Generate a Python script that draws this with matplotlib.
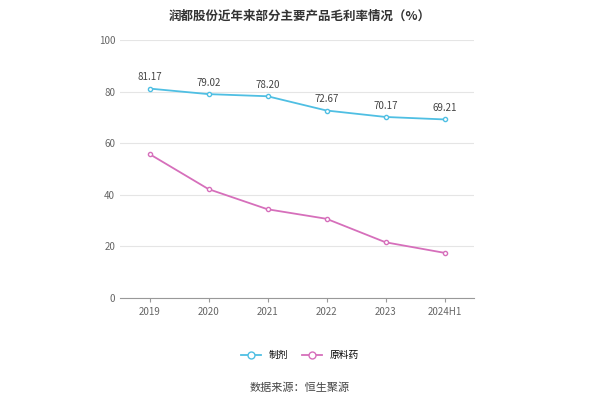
import matplotlib
matplotlib.use("Agg")
import matplotlib.pyplot as plt
from matplotlib.lines import Line2D

plt.rcParams['font.family'] = ['Noto Sans CJK SC', 'DejaVu Sans']

years = ["2019", "2020", "2021", "2022", "2023", "2024H1"]
zhiji = [81.17, 79.02, 78.20, 72.67, 70.17, 69.21]
yuanliao = [55.8, 42.2, 34.4, 30.7, 21.6, 17.5]
yticks = [0, 20, 40, 60, 80, 100]

blue = "#4fbfe3"
pink = "#d66fbb"

fig = plt.figure(figsize=(6, 4), dpi=100)
ax = fig.add_axes([0.2, 0.255, 0.59, 0.645])
x = range(len(years))
ax.plot(x, zhiji, color=blue, marker='o', markersize=3, markerfacecolor='white', lw=1.3)
ax.plot(x, yuanliao, color=pink, marker='o', markersize=3, markerfacecolor='white', lw=1.3)
for i, v in enumerate(zhiji):
    ax.annotate(f"{v:.2f}", (i, v), textcoords='offset points', xytext=(0, 6),
                ha='center', fontsize=7, color='#444444')
ax.set_xlim(-0.5, len(years) - 0.5)
ax.set_ylim(0, 100)
ax.set_yticks(yticks)
ax.set_xticks(list(x))
ax.set_xticklabels(years)
ax.tick_params(labelsize=7, colors='#666666', length=0)
ax.tick_params(axis='x', length=3, color='#999999')
ax.grid(axis='y', color='#e5e5e5', lw=0.8)
for s in ['top', 'right', 'left']:
    ax.spines[s].set_visible(False)
ax.spines['bottom'].set_color('#999999')

fig.text(0.5, 0.975, "润都股份近年来部分主要产品毛利率情况（%）", ha='center', va='top',
         fontsize=9, fontweight='bold', color='#333333')
handles = [Line2D([0], [0], color=blue, marker='o', markerfacecolor='white', markersize=5, lw=1.3),
           Line2D([0], [0], color=pink, marker='o', markerfacecolor='white', markersize=5, lw=1.3)]
fig.legend(handles, ["制剂", "原料药"], loc='center', bbox_to_anchor=(0.5, 0.112), ncol=2,
           frameon=False, fontsize=7, handlelength=2, columnspacing=1.5)
fig.text(0.5, 0.03, "数据来源：恒生聚源", ha='center', va='center', fontsize=8, color='#444444')
fig.savefig("out.png", dpi=100, facecolor='white')
